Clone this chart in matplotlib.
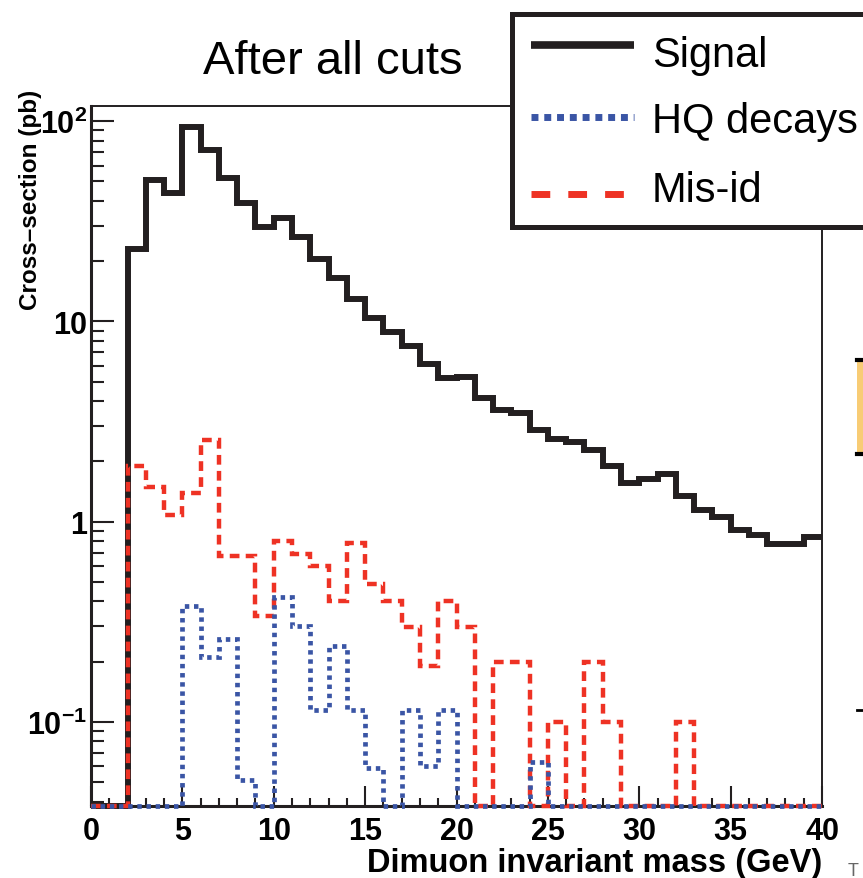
import numpy as np
import matplotlib
matplotlib.use("Agg")
import matplotlib.pyplot as plt
from matplotlib.lines import Line2D
from matplotlib.patches import Rectangle
from matplotlib.ticker import FixedLocator, FixedFormatter, LogLocator, NullFormatter, MultipleLocator

plt.rcParams['font.family'] = ['Liberation Sans', 'DejaVu Sans']
plt.rcParams['font.weight'] = 'bold'
plt.rcParams['mathtext.fontset'] = 'custom'
plt.rcParams['mathtext.rm'] = 'Liberation Sans'
plt.rcParams['mathtext.bf'] = 'Liberation Sans:bold'
plt.rcParams['lines.scale_dashes'] = False

# 1 GeV bins, 0-40 GeV
mass_edges = np.arange(0, 41, 1)

signal = [0, 0, 23, 51, 44, 94, 72, 52, 39, 29.6,
          33, 26.3, 20.5, 16.5, 12.9, 10.4, 8.9, 7.5, 6.1, 5.2,
          5.3, 4.15, 3.6, 3.47, 2.88, 2.6, 2.49, 2.29, 1.89, 1.56,
          1.63, 1.72, 1.34, 1.14, 1.06, 0.905, 0.86, 0.77, 0.77, 0.84]

hq_decays = [0, 0, 0, 0, 0, 0.377, 0.21, 0.26, 0.051, 0,
             0.42, 0.30, 0.115, 0.24, 0.115, 0.059, 0, 0.115, 0.06, 0.115,
             0, 0, 0, 0, 0.063, 0, 0, 0, 0, 0,
             0, 0, 0, 0, 0, 0, 0, 0, 0, 0]

mis_id = [0, 0, 1.9, 1.49, 1.08, 1.39, 2.57, 0.67, 0.67, 0.336,
          0.80, 0.69, 0.60, 0.40, 0.78, 0.49, 0.40, 0.296, 0.19, 0.40,
          0.296, 0, 0.2, 0.2, 0, 0.1, 0, 0.2, 0.1, 0,
          0, 0, 0.1, 0, 0, 0, 0, 0, 0, 0]

series_labels = ['Signal', 'HQ decays', 'Mis-id']
xtick_values = [0, 5, 10, 15, 20, 25, 30, 35, 40]
ytick_values = [0.1, 1, 10, 100]
ytick_labels = [r'$\mathbf{10^{-1}}$', '1', '10', r'$\mathbf{10^{2}}$']

INK = '#231f20'
RED = '#ee3224'
BLUE = '#3a55a5'

W, H = 863, 879
Y_FLOOR = 0.038   # empty bins are drawn on the axis minimum (ROOT style)


def fx(px):
    return px / W


def fy(py):
    return 1 - py / H


def at_floor(values):
    values = np.asarray(values, dtype=float)
    return np.where(values > 0, values, Y_FLOOR)


fig = plt.figure(figsize=(W / 100, H / 100), dpi=100)
ax = fig.add_axes([fx(91), fy(807), (822 - 91) / W, (807 - 107) / H])

ax.stairs(at_floor(signal), mass_edges, baseline=None, color=INK,
          linewidth=4.3, clip_on=False, zorder=3)
ax.stairs(at_floor(mis_id), mass_edges, baseline=None, color=RED,
          linewidth=3.2, linestyle=(0, (7, 4.5)), clip_on=False, zorder=4)
ax.stairs(at_floor(hq_decays), mass_edges, baseline=None, color=BLUE,
          linewidth=3.4, linestyle=(0, (3.2, 3.4)), clip_on=False, zorder=5)

ax.set_xlim(0, 40)
ax.set_yscale('log')
ax.set_ylim(Y_FLOOR, 119)

ax.xaxis.set_major_locator(FixedLocator(xtick_values))
ax.xaxis.set_minor_locator(MultipleLocator(1))
ax.yaxis.set_major_locator(FixedLocator(ytick_values))
ax.yaxis.set_major_formatter(FixedFormatter(ytick_labels))
ax.yaxis.set_minor_locator(LogLocator(base=10, subs=np.arange(2, 10)))
ax.yaxis.set_minor_formatter(NullFormatter())

ax.tick_params(which='both', direction='in', top=False, right=False,
               color=INK, width=1.5, labelsize=22, labelcolor='black')
ax.tick_params(axis='x', which='major', length=14.5, pad=7)
ax.tick_params(axis='x', which='minor', length=6)
ax.tick_params(axis='y', which='major', length=16.5, pad=3)
ax.tick_params(axis='y', which='minor', length=9.5)

for side in ['left', 'bottom']:
    ax.spines[side].set_linewidth(2.2)
    ax.spines[side].set_color(INK)
for side in ['top', 'right']:
    ax.spines[side].set_linewidth(1.4)
    ax.spines[side].set_color(INK)

fig.text(fx(822), fy(872), 'Dimuon invariant mass (GeV)', fontsize=23.5,
         ha='right', va='baseline')
fig.text(fx(30), fy(90), 'Cross\u2013section (pb)', fontsize=17.5,
         rotation=90, ha='center', va='top')

fig.text(fx(203), fy(74), 'After all cuts', fontsize=34,
         fontweight='normal', va='baseline')

# legend box, running off the right edge like the source
fig.add_artist(Rectangle((fx(512), fy(227.5)), (880 - 512) / W, (227.5 - 14.5) / H,
                         transform=fig.transFigure, facecolor='white',
                         edgecolor=INK, linewidth=3.6, zorder=10))
handle_styles = [
    dict(color=INK, linewidth=5.5, linestyle='-'),
    dict(color=BLUE, linewidth=5, linestyle=(0, (5, 4.2))),
    dict(color=RED, linewidth=5, linestyle=(0, (13.5, 13))),
]
handle_y = [46, 118, 195]
text_base = [67, 133, 202]
for label, style, hy, ty in zip(series_labels, handle_styles, handle_y, text_base):
    fig.add_artist(Line2D([fx(531), fx(634)], [fy(hy), fy(hy)],
                          transform=fig.transFigure, solid_capstyle='butt',
                          dash_capstyle='butt', zorder=11, **style))
    fig.text(fx(652), fy(ty), label, fontsize=30, fontweight='normal',
             va='baseline', ha='left', zorder=11)

# slivers of the neighbouring panel at the right edge
fig.add_artist(Rectangle((fx(857), fy(455)), 20 / W, (455 - 362) / H,
                         transform=fig.transFigure, facecolor='#f8cc75',
                         edgecolor='none'))
for yy in [361, 455]:
    fig.add_artist(Line2D([fx(857), fx(870)], [fy(yy), fy(yy)],
                          transform=fig.transFigure, color='black', linewidth=3))
fig.add_artist(Line2D([fx(857), fx(870)], [fy(711), fy(711)],
                      transform=fig.transFigure, color='black', linewidth=2))
fig.text(fx(848), fy(876), 'T', fontsize=13, fontweight='normal', color='#666666')

fig.savefig('out.png', dpi=100)
